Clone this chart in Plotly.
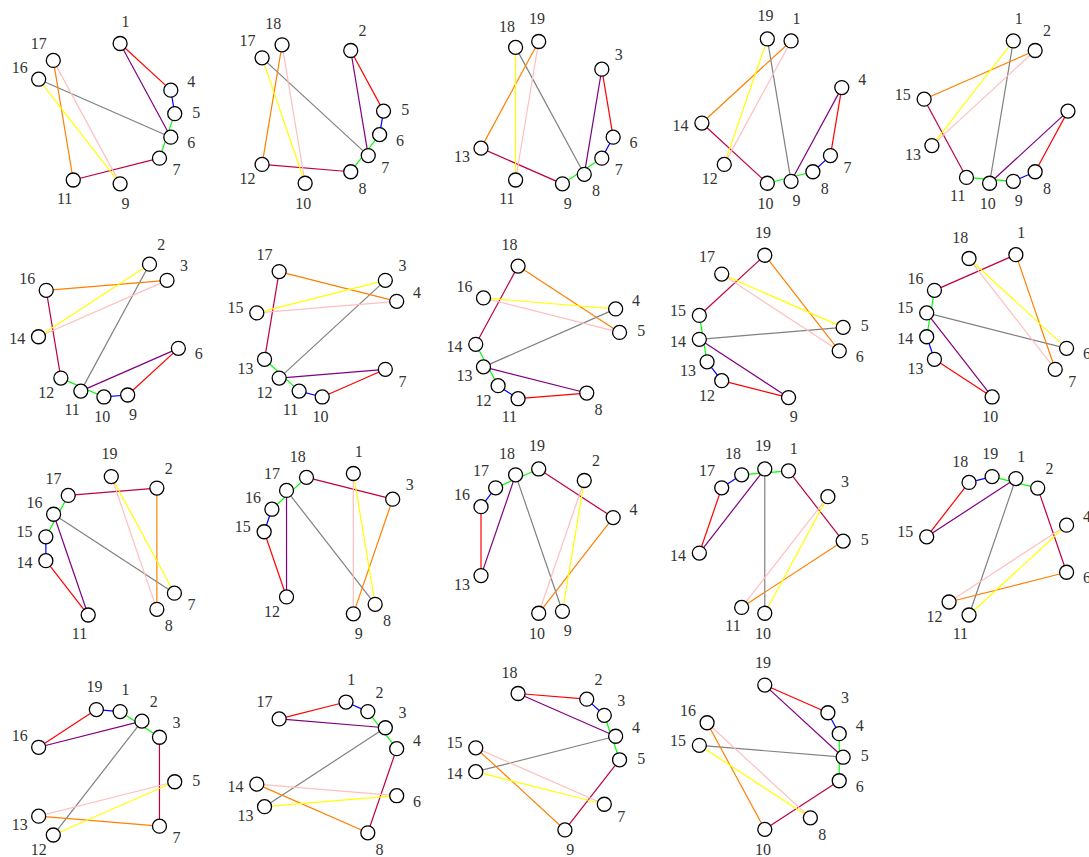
import math
import plotly.graph_objects as go

W, H = 1089, 857
N_POS = 19  # positions around each ring

# Vertices present in each of the 19 panels
panel_nodes = [
    [1, 4, 5, 6, 7, 9, 11, 16, 17],
    [2, 5, 6, 7, 8, 10, 12, 17, 18],
    [3, 6, 7, 8, 9, 11, 13, 18, 19],
    [4, 7, 8, 9, 10, 12, 14, 19, 1],
    [5, 8, 9, 10, 11, 13, 15, 1, 2],
    [6, 9, 10, 11, 12, 14, 16, 2, 3],
    [7, 10, 11, 12, 13, 15, 17, 3, 4],
    [8, 11, 12, 13, 14, 16, 18, 4, 5],
    [9, 12, 13, 14, 15, 17, 19, 5, 6],
    [10, 13, 14, 15, 16, 18, 1, 6, 7],
    [11, 14, 15, 16, 17, 19, 2, 7, 8],
    [12, 15, 16, 17, 18, 1, 3, 8, 9],
    [13, 16, 17, 18, 19, 2, 4, 9, 10],
    [14, 17, 18, 19, 1, 3, 5, 10, 11],
    [15, 18, 19, 1, 2, 4, 6, 11, 12],
    [16, 19, 1, 2, 3, 5, 7, 12, 13],
    [17, 1, 2, 3, 4, 6, 8, 13, 14],
    [18, 2, 3, 4, 5, 7, 9, 14, 15],
    [19, 3, 4, 5, 6, 8, 10, 15, 16],
]

# Edge colours, in the same order as the edges of every panel
edge_colors = ["#ff0000", "#800080", "#0000ff", "#00ff00", "#808080",
               "#bf0040", "#ff8000", "#ffbfbf", "#ffff00"]

panel_edges = [
    [(1, 4), (1, 6), (4, 5), (5, 7), (16, 6), (7, 11), (17, 11), (17, 9), (16, 9)],
    [(2, 5), (2, 7), (5, 6), (6, 8), (17, 7), (8, 12), (18, 12), (18, 10), (17, 10)],
    [(3, 6), (3, 8), (6, 7), (7, 9), (18, 8), (9, 13), (19, 13), (19, 11), (18, 11)],
    [(4, 7), (4, 9), (7, 8), (8, 10), (19, 9), (10, 14), (1, 14), (1, 12), (19, 12)],
    [(5, 8), (5, 10), (8, 9), (9, 11), (1, 10), (11, 15), (2, 15), (2, 13), (1, 13)],
    [(6, 9), (6, 11), (9, 10), (10, 12), (2, 11), (12, 16), (3, 16), (3, 14), (2, 14)],
    [(7, 10), (7, 12), (10, 11), (11, 13), (3, 12), (13, 17), (4, 17), (4, 15), (3, 15)],
    [(8, 11), (8, 13), (11, 12), (12, 14), (4, 13), (14, 18), (5, 18), (5, 16), (4, 16)],
    [(9, 12), (9, 14), (12, 13), (13, 15), (5, 14), (15, 19), (6, 19), (6, 17), (5, 17)],
    [(10, 13), (10, 15), (13, 14), (14, 16), (6, 15), (16, 1), (7, 1), (7, 18), (6, 18)],
    [(11, 14), (11, 16), (14, 15), (15, 17), (7, 16), (17, 2), (8, 2), (8, 19), (7, 19)],
    [(12, 15), (12, 17), (15, 16), (16, 18), (8, 17), (18, 3), (9, 3), (9, 1), (8, 1)],
    [(13, 16), (13, 18), (16, 17), (17, 19), (9, 18), (19, 4), (10, 4), (10, 2), (9, 2)],
    [(14, 17), (14, 19), (17, 18), (18, 1), (10, 19), (1, 5), (11, 5), (11, 3), (10, 3)],
    [(15, 18), (15, 1), (18, 19), (19, 2), (11, 1), (2, 6), (12, 6), (12, 4), (11, 4)],
    [(16, 19), (16, 2), (19, 1), (1, 3), (12, 2), (3, 7), (13, 7), (13, 5), (12, 5)],
    [(17, 1), (17, 3), (1, 2), (2, 4), (13, 3), (4, 8), (14, 8), (14, 6), (13, 6)],
    [(18, 2), (18, 4), (2, 3), (3, 5), (14, 4), (5, 9), (15, 9), (15, 7), (14, 7)],
    [(19, 3), (19, 5), (3, 4), (4, 6), (15, 5), (6, 10), (16, 10), (16, 8), (15, 8)],
]

# Page geometry (pixels)
SCALE = 72.4          # ring radius
LABEL_R = 94.0        # distance of the vertex labels from the ring centre
HALF_DIGIT = 3.6      # half width of one label digit
col_centers = [106.2, 324.5, 546.0, 769.6, 994.4]
row_label_base = [204.8, 418.5, 634.8, 850.9]   # centre of the lowest label in each row
N_COLS = 5


def ring_angle(k):
    # vertex 5 sits at 3 o'clock, numbering runs clockwise
    return math.radians((5 - k) * 360.0 / N_POS)


def unit(k):
    a = ring_angle(k)
    return math.cos(a), math.sin(a)


fig = go.Figure()
layout_axes = {}

for i, (nodes, edges) in enumerate(zip(panel_nodes, panel_edges)):
    row, col = divmod(i, N_COLS)
    ax_id = "" if i == 0 else str(i + 1)

    # bounding box of the labels decides where the ring is placed
    lefts = [LABEL_R * unit(k)[0] - HALF_DIGIT * len(str(k)) for k in nodes]
    rights = [LABEL_R * unit(k)[0] + HALF_DIGIT * len(str(k)) for k in nodes]
    cx = col_centers[col] - (min(lefts) + max(rights)) / 2.0
    cy = row_label_base[row] - max(-LABEL_R * unit(k)[1] for k in nodes)

    x0, x1 = max(0.0, cx - 125), min(W, cx + 125)
    y0, y1 = max(0.0, cy - 118), min(H, cy + 118)

    layout_axes["xaxis" + ax_id] = dict(
        domain=[x0 / W, x1 / W], range=[(x0 - cx) / SCALE, (x1 - cx) / SCALE],
        visible=False, fixedrange=True)
    layout_axes["yaxis" + ax_id] = dict(
        domain=[1 - y1 / H, 1 - y0 / H], range=[(cy - y1) / SCALE, (cy - y0) / SCALE],
        visible=False, fixedrange=True)

    xa, ya = "x" + ax_id, "y" + ax_id

    for (a, b), colr in zip(edges, edge_colors):
        (ax_, ay_), (bx_, by_) = unit(a), unit(b)
        fig.add_trace(go.Scatter(
            x=[ax_, bx_], y=[ay_, by_], mode="lines",
            line=dict(color=colr, width=1.2),
            xaxis=xa, yaxis=ya, hoverinfo="skip", showlegend=False))

    fig.add_trace(go.Scatter(
        x=[unit(k)[0] for k in nodes], y=[unit(k)[1] for k in nodes],
        mode="markers",
        marker=dict(size=14, color="white", line=dict(color="black", width=1.3)),
        xaxis=xa, yaxis=ya, hoverinfo="skip", showlegend=False, cliponaxis=False))

    lr = LABEL_R / SCALE
    fig.add_trace(go.Scatter(
        x=[lr * unit(k)[0] for k in nodes], y=[lr * unit(k)[1] for k in nodes],
        mode="text", text=[str(k) for k in nodes], textposition="middle center",
        textfont=dict(family="Liberation Serif", size=16, color="#333333"),
        xaxis=xa, yaxis=ya, hoverinfo="skip", showlegend=False, cliponaxis=False))

fig.update_layout(
    width=W, height=H, autosize=False,
    margin=dict(l=0, r=0, t=0, b=0),
    paper_bgcolor="white", plot_bgcolor="rgba(0,0,0,0)",
    **layout_axes)

fig.write_html("out.html")
